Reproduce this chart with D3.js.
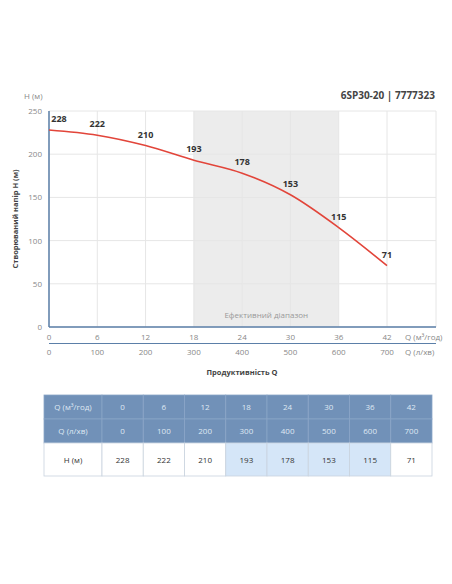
<!DOCTYPE html><html><head><meta charset="utf-8"><script src="https://cdn.jsdelivr.net/npm/d3@7"></script>
<style>body{margin:0;background:#fff;font-family:Montserrat,"Open Sans",sans-serif}</style></head><body><svg id="c" width="452" height="584"></svg><script>
const qM3 = [0,6,12,18,24,30,36,42];
const qL = [0,100,200,300,400,500,600,700];
const head = [228,222,210,193,178,153,115,71];
const yTicks = [0,50,100,150,200,250];
const effRange = [18,36];
const title = "6SP30-20 | 7777323";
const svg = d3.select("#c");
const F = '"Open Sans",sans-serif';
const x = d3.scaleLinear().domain([0,42]).range([49,387]);
const xr = 436;
const y = d3.scaleLinear().domain([0,250]).range([327,111]);
svg.append("rect").attr("x",x(effRange[0])).attr("y",y(250)).attr("width",x(effRange[1])-x(effRange[0])).attr("height",y(0)-y(250)).attr("fill","#ececec");
const g=svg.append("g");
yTicks.forEach(t=>{g.append("line").attr("x1",49).attr("x2",xr).attr("y1",y(t)).attr("y2",y(t)).attr("stroke","#e6e6e6");
 g.append("text").attr("x",42).attr("y",y(t)+3).attr("text-anchor","end").attr("font-size",8).attr("fill","#888").attr("font-family",F).text(t);});
qM3.forEach((q,i)=>{g.append("line").attr("x1",x(q)).attr("x2",x(q)).attr("y1",y(250)).attr("y2",y(0)).attr("stroke","#e6e6e6");
 g.append("text").attr("x",x(q)).attr("y",340).attr("text-anchor","middle").attr("font-size",8).attr("fill","#888").attr("font-family",F).text(q);
 g.append("text").attr("x",x(q)).attr("y",355).attr("text-anchor","middle").attr("font-size",8).attr("fill","#888").attr("font-family",F).text(qL[i]);});
g.append("line").attr("x1",xr).attr("x2",xr).attr("y1",y(250)).attr("y2",y(0)).attr("stroke","#e6e6e6");
svg.append("line").attr("x1",49).attr("x2",xr).attr("y1",y(0)).attr("y2",y(0)).attr("stroke","#5b7fa8").attr("stroke-width",1.5);
svg.append("line").attr("x1",49).attr("x2",49).attr("y1",y(250)).attr("y2",y(0)).attr("stroke","#5b7fa8").attr("stroke-width",1.5);
svg.append("line").attr("x1",49).attr("x2",xr).attr("y1",343.5).attr("y2",343.5).attr("stroke","#5b7fa8").attr("stroke-width",1);
svg.append("text").attr("x",405).attr("y",340).attr("font-size",8).attr("fill","#888").attr("font-family",F).text("Q (м³/год)");
svg.append("text").attr("x",405).attr("y",355).attr("font-size",8).attr("fill","#888").attr("font-family",F).text("Q (л/хв)");
svg.append("text").attr("x",x(27)).attr("y",318).attr("text-anchor","middle").attr("font-size",8).attr("fill","#999").attr("font-family",F).text("Ефективний діапазон");
svg.append("text").attr("x",242).attr("y",375).attr("text-anchor","middle").attr("font-size",7.5).attr("font-weight","bold").attr("fill","#444").attr("font-family",F).text("Продуктивність Q");
svg.append("text").attr("transform","translate(18,219) rotate(-90)").attr("text-anchor","middle").attr("font-size",7.5).attr("font-weight","bold").attr("fill","#444").attr("font-family",F).text("Створюваний напір H (м)");
svg.append("text").attr("x",24).attr("y",99).attr("font-size",8).attr("fill","#888").attr("font-family",F).text("H (м)");
svg.append("text").attr("x",435).attr("y",99).attr("text-anchor","end").attr("font-size",10).attr("font-weight","bold").attr("fill","#444").attr("font-family",F).text(title);
const line=d3.line().x((d,i)=>x(qM3[i])).y(d=>y(d)).curve(d3.curveMonotoneX);
svg.append("path").attr("d",line(head)).attr("fill","none").attr("stroke","#e2453a").attr("stroke-width",1.6);
head.forEach((h,i)=>svg.append("text").attr("x",x(qM3[i])+(i==0?10:0)).attr("y",y(h)-8).attr("text-anchor","middle").attr("font-size",9).attr("font-weight","bold").attr("fill","#333").attr("font-family",F).text(h));
// table
const tx0=44, c0=58, cw=(432-102)/8, rows=[395,419,443,476];
const rowsData=[["Q (м³/год)",...qM3],["Q (л/хв)",...qL],["H (м)",...head]];
rowsData.forEach((r,ri)=>{r.forEach((v,ci)=>{const cx=ci==0?tx0:102+(ci-1)*cw, w=ci==0?c0:cw;
 const hl=ri==2&&ci>=4&&ci<=7;
 svg.append("rect").attr("x",cx).attr("y",rows[ri]).attr("width",w).attr("height",rows[ri+1]-rows[ri]).attr("fill",ri<2?"#7191b8":(hl?"#d5e6f8":"#fff")).attr("stroke",ri<2?"#8aa5c7":"#c9d3de").attr("stroke-width",0.8);
 svg.append("text").attr("x",cx+w/2).attr("y",(rows[ri]+rows[ri+1])/2+3).attr("text-anchor","middle").attr("font-size",8).attr("fill",ri<2?"#dfe8f3":"#333").attr("font-family",F).text(v);});});
</script></body></html>
